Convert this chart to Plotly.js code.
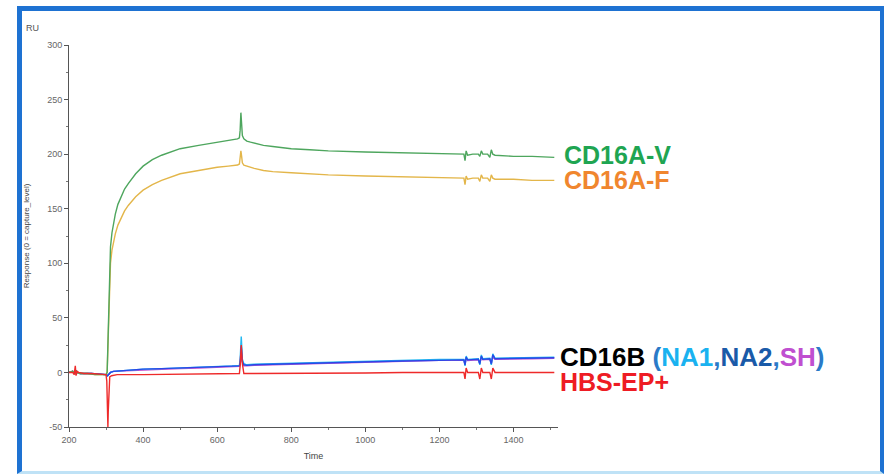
<!DOCTYPE html>
<html>
<head>
<meta charset="utf-8">
<script src="https://cdn.plot.ly/plotly-3.0.1.min.js"></script>
<style>
  html, body { margin: 0; padding: 0; background: #ffffff; }
  #wrap { position: relative; width: 886px; height: 474px; overflow: hidden; }
  #chart { position: absolute; left: 0; top: 0; width: 886px; height: 474px; }
  #frame { position: absolute; left: 17px; top: 6px; width: 858px; height: 460px;
           border-left: 5px solid #1e72d2; border-top: 5px solid #1e72d2;
           border-right: 4px solid #1e72d2; border-bottom: 3px solid #bfe2f6;
           pointer-events: none; }
</style>
</head>
<body>
<div id="wrap">
  <div id="chart"></div>
  <div id="frame"></div>
</div>
<script>
// ---- Data ----
// Time grid for the CD16A curves
const tA = [200,210,216,219,222,230,250,270,290,300,303,305,307,309,312,316,320,325,332,340,350,360,370,380,400,425,450,475,500,550,600,630,655,660,662,664,666,668,672,680,690,700,725,750,800,850,900,1000,1100,1200,1260,1266,1269,1272,1276,1290,1305,1309,1313,1317,1330,1336,1340,1344,1350,1400,1450,1510];
const cd16aV = [0,1,-1,2,0,-1,-1,-2,-2,-2,0,30,70,98,115,128,137,145,154,161,168,173,178,182,189,195,199,202,205,208,211,213,214,215,222,238,226,217,214,212,211,210,208,207,205,204,203,202,201,200,200,200,194,203,199,200,200,198,203,200,200,197,204,200,199,198,198,197];
const cd16aF = [0,1,-1,1,0,-1,-1,-2,-2,-2,0,25,60,85,100,112,120,127,135,141,148,153,157,161,167,172,176,179,182,185,188,189,190,191,196,203,198,192,190,189,188,187,185,184,183,182,181,180,179,178,178,178,172,180,177,178,178,175,181,178,178,175,181,178,177,177,176,176];

// Time grid for the CD16B curves
const tB = [200,210,216,219,222,230,260,290,300,304,308,312,320,350,400,450,500,550,600,640,660,662,665,668,672,680,700,750,800,900,1000,1100,1200,1260,1266,1269,1272,1276,1290,1305,1309,1313,1317,1330,1336,1340,1344,1350,1400,1450,1510];
const cd16bNA1 = [0,1,-1,2,0,-1,-1,-2,-2,-3,-1,0,1,2,3,3.5,4,5,5.5,6,6.5,12,33,12,8,7,7.5,8,8.5,9.5,10.5,11,12,12,12,6,15,12,12.5,12.5,7,16,12.5,12.5,13,7,17,13,13.5,13.5,14];
const cd16bNA2 = [0,1,-1,2,0,-1,-1,-2,-2,-3,-1,0,1,2,3,3.5,4,4.5,5,5.5,6,9,24,10,7,6.5,7,7.5,8,9,10,10.5,11,11.5,11.5,7,14,11.5,12,12,8,15,12,12,12.5,8,16,12.5,13,13,13.5];
const cd16bSH  = [0,1,-1,2,0,-1,-1,-2,-2,-3,-1,0,1,1.5,2.5,3,3.5,4,4.5,5,5.5,8,18,9,6,6,6.5,7,7.5,8.5,9.5,10,11,11,11,7,13,11,11.5,11.5,8,14,11.5,11.5,12,8,14,12,12,12.5,13];

// Time grid for the buffer blank
const tR = [200,210,214,217,219,222,226,240,260,290,300,302,304,305,306,308,310,315,330,400,500,600,640,660,662,665,668,672,700,800,900,1000,1100,1200,1266,1269,1272,1276,1305,1309,1313,1317,1336,1340,1344,1350,1400,1510];
const hbsEP = [0,0,-2,6,-3,1,0,-1,-1,-2,-2,-8,-30,-50,-35,-12,-4,-3,-2,-2,-1.5,-1,-1,-1,6,25,8,-1,-1,-1,-0.5,-0.5,0,0,0,-6,4,0,0,-6,4,0,0,-6,4,0,0,0];

const xTicks = [200,400,600,800,1000,1200,1400];
const yTicks = [-50,0,50,100,150,200,250,300];

// ---- Traces ----
function line(x, y, color, name) {
  return { type: 'scatter', mode: 'lines', x: x, y: y, name: name,
           line: { color: color, width: 1.4 }, hoverinfo: 'x+y+name' };
}
const traces = [
  line(tB, cd16bSH,  '#c050d0', 'CD16B SH'),
  line(tB, cd16bNA1, '#22b8f0', 'CD16B NA1'),
  line(tB, cd16bNA2, '#2a48e6', 'CD16B NA2'),
  line(tA, cd16aF,   '#e3b64a', 'CD16A-F'),
  line(tA, cd16aV,   '#4ea65e', 'CD16A-V'),
  line(tR, hbsEP,    '#ee2a2a', 'HBS-EP+')
];

const tickFont = { family: 'Liberation Sans, Arial, sans-serif', size: 9, color: '#666' };
const lab = { family: 'Liberation Sans, Arial, sans-serif', size: 25, color: '#000' };

const layout = {
  width: 886, height: 474,
  margin: { l: 69, r: 328, t: 45, b: 47 },
  paper_bgcolor: '#ffffff', plot_bgcolor: '#ffffff',
  showlegend: false,
  xaxis: {
    range: [200, 1520], tickvals: xTicks, ticktext: xTicks.map(String),
    showgrid: false, zeroline: false, showline: true, linecolor: '#555', linewidth: 1,
    ticks: 'outside', ticklen: 4, tickcolor: '#555', tickfont: tickFont,
    minor: { dtick: 100, tick0: 200, ticks: 'outside', ticklen: 2, tickcolor: '#777' },
    title: { text: 'Time', font: { family: 'Liberation Sans, Arial, sans-serif', size: 9, color: '#444' }, standoff: 8 }
  },
  yaxis: {
    range: [-50, 300], tickvals: yTicks, ticktext: yTicks.map(String),
    showgrid: false, zeroline: false, showline: true, linecolor: '#555', linewidth: 1,
    ticks: 'outside', ticklen: 4, tickcolor: '#555', tickfont: tickFont,
    minor: { dtick: 25, tick0: 0, ticks: 'outside', ticklen: 2, tickcolor: '#777' },
    title: { text: 'Response (0 = capture_level)', font: { family: 'Liberation Sans, Arial, sans-serif', size: 8, color: '#444' }, standoff: 16 }
  },
  annotations: [
    { xref: 'paper', yref: 'paper', x: -0.075, y: 1.045, xanchor: 'center', yanchor: 'middle',
      text: 'RU', showarrow: false, font: { family: 'Liberation Sans, Arial, sans-serif', size: 9, color: '#555' } },
    { xref: 'paper', yref: 'paper', x: 1.008, y: 0.712, xanchor: 'left', yanchor: 'middle', showarrow: false,
      text: '<b>CD16A-V</b>', font: Object.assign({}, lab, { color: '#1fa552' }) },
    { xref: 'paper', yref: 'paper', x: 1.008, y: 0.6466, xanchor: 'left', yanchor: 'middle', showarrow: false,
      text: '<b>CD16A-F</b>', font: Object.assign({}, lab, { color: '#f0862e' }) },
    { xref: 'paper', yref: 'paper', x: 1.0, y: 0.182, xanchor: 'left', yanchor: 'middle', showarrow: false,
      text: '<b>CD16B <span style="color:#2a7ac8">(</span><span style="color:#1ab2f0">NA1</span><span style="color:#2a7ac8">,</span><span style="color:#1a5aa8">NA2</span><span style="color:#2a7ac8">,</span><span style="color:#c04fd0">SH</span><span style="color:#2a7ac8">)</span></b>',
      font: Object.assign({}, lab, { size: 26 }) },
    { xref: 'paper', yref: 'paper', x: 1.0, y: 0.1165, xanchor: 'left', yanchor: 'middle', showarrow: false,
      text: '<b>HBS-EP+</b>', font: Object.assign({}, lab, { color: '#ee1c24' }) }
  ]
};

Plotly.newPlot('chart', traces, layout, { displayModeBar: false, staticPlot: true });
</script>
</body>
</html>
